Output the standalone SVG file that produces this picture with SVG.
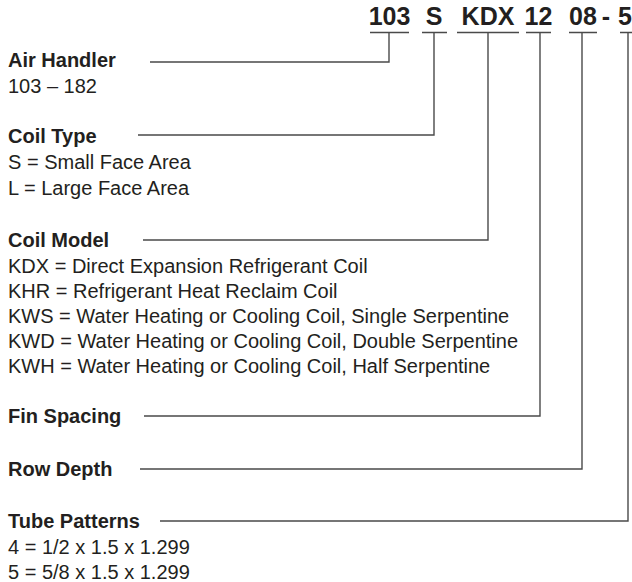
<svg xmlns="http://www.w3.org/2000/svg" width="632" height="582" viewBox="0 0 632 582">
<style>
.hdr{font-family:"Liberation Sans",Arial,sans-serif;font-weight:bold;font-size:25px;fill:#231f20;text-anchor:middle}
.lbl{font-family:"Liberation Sans",Arial,sans-serif;font-weight:bold;font-size:20px;fill:#231f20}
.txt{font-family:"Liberation Sans",Arial,sans-serif;font-size:20px;fill:#231f20}
.ln{fill:none;stroke:#4a4a4a;stroke-width:1.4}
</style>
<rect width="632" height="582" fill="#fff"/>
<g id="header">
<text class="hdr" x="389.5" y="25">103</text>
<text class="hdr" x="434" y="25">S</text>
<text class="hdr" x="488" y="25">KDX</text>
<text class="hdr" x="538.5" y="25">12</text>
<text class="hdr" x="583" y="25">08</text>
<text class="hdr" x="606" y="25">-</text>
<text class="hdr" x="625" y="25">5</text>
</g>
<g id="air-handler">
<text class="lbl" x="8" y="67">Air Handler</text>
<text class="txt" x="8" y="93">103 – 182</text>
</g>
<g id="coil-type">
<text class="lbl" x="8" y="143">Coil Type</text>
<text class="txt" x="8" y="169">S = Small Face Area</text>
<text class="txt" x="8" y="195">L = Large Face Area</text>
</g>
<g id="coil-model">
<text class="lbl" x="8" y="247">Coil Model</text>
<text class="txt" x="8" y="273">KDX = Direct Expansion Refrigerant Coil</text>
<text class="txt" x="8" y="298">KHR = Refrigerant Heat Reclaim Coil</text>
<text class="txt" x="8" y="323">KWS = Water Heating or Cooling Coil, Single Serpentine</text>
<text class="txt" x="8" y="348">KWD = Water Heating or Cooling Coil, Double Serpentine</text>
<text class="txt" x="8" y="373">KWH = Water Heating or Cooling Coil, Half Serpentine</text>
</g>
<g id="fin-spacing">
<text class="lbl" x="8" y="423">Fin Spacing</text>
</g>
<g id="row-depth">
<text class="lbl" x="8" y="476">Row Depth</text>
</g>
<g id="tube-patterns">
<text class="lbl" x="8" y="528">Tube Patterns</text>
<text class="txt" x="8" y="554">4 = 1/2 x 1.5 x 1.299</text>
<text class="txt" x="8" y="579">5 = 5/8 x 1.5 x 1.299</text>
</g>
<g id="connectors">
<path class="ln" d="M370,32.5H409M389,32.5V62H150"/>
<path class="ln" d="M422,32.5H447M434,32.5V135H138"/>
<path class="ln" d="M457,32.5H519M488,32.5V240H143"/>
<path class="ln" d="M526,32.5H551M540,32.5V416H144"/>
<path class="ln" d="M569,32.5H597M582,32.5V469H140"/>
<path class="ln" d="M620,32.5H632M628,32.5V521H160"/>
</g>
</svg>
